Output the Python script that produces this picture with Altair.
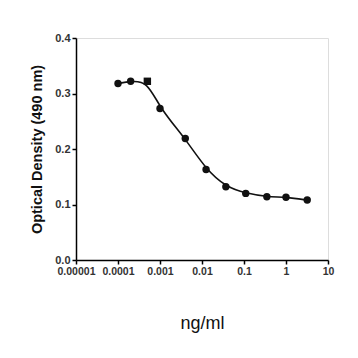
import altair as alt
import pandas as pd

conc = [0.0001, 0.0002, 0.0005, 0.001, 0.004, 0.0125, 0.037, 0.11, 0.35, 1.0, 3.2]
od = [0.318, 0.322, 0.322, 0.273, 0.219, 0.163, 0.132, 0.120, 0.114, 0.113, 0.108]
marker = ["circle", "circle", "square", "circle", "circle", "circle", "circle", "circle", "circle", "circle", "circle"]
x_ticks = [0.00001, 0.0001, 0.001, 0.01, 0.1, 1, 10]

df = pd.DataFrame({"conc": conc, "od": od, "marker": marker})

label_expr = "datum.value >= 1 ? format(datum.value, 'd') : format(datum.value, '.' + round(-log(datum.value)/log(10)) + 'f')"

x_enc = alt.X(
    "conc:Q",
    scale=alt.Scale(type="log", domain=[0.00001, 10]),
    axis=alt.Axis(
        values=x_ticks,
        labelExpr=label_expr,
        title="ng/ml",
        titleFontSize=18,
        titleFontWeight="normal",
        titleFont="Liberation Sans",
        titleColor="#111",
        titlePadding=38,
        labelFontSize=10.5,
        labelFontWeight="bold",
        labelFont="Liberation Sans",
        labelColor="#333",
        tickSize=4,
        tickColor="black",
        domainColor="black",
        domainWidth=1.5,
        tickWidth=1.5,
        grid=False,
        labelFlush=False,
        labelOverlap=False,
    ),
)
y_enc = alt.Y(
    "od:Q",
    scale=alt.Scale(domain=[0, 0.4]),
    axis=alt.Axis(
        values=[0, 0.1, 0.2, 0.3, 0.4],
        format=".1f",
        title="Optical Density (490 nm)",
        titleFontSize=14.5,
        titleFontWeight="bold",
        titleFont="Liberation Sans",
        titleColor="#111",
        titlePadding=10,
        labelFontSize=11,
        labelFontWeight="bold",
        labelFont="Liberation Sans",
        labelColor="#333",
        tickSize=4,
        tickColor="black",
        domainColor="black",
        domainWidth=1.5,
        tickWidth=1.5,
        grid=False,
    ),
)

line = alt.Chart(df).mark_line(color="#111", strokeWidth=1.6, interpolate="basis").encode(x=x_enc, y=y_enc)
pts = alt.Chart(df).mark_point(filled=True, color="#111", size=55, opacity=1).encode(
    x=x_enc, y=y_enc,
    shape=alt.Shape("marker:N", scale=alt.Scale(domain=["circle", "square"], range=["circle", "square"]), legend=None),
)

chart = (line + pts).properties(
    width=252, height=222,
    autosize=alt.AutoSizeParams(type="none"),
    padding={"left": 76, "top": 38, "right": 30, "bottom": 98},
).configure_view(stroke=None).configure(background="white")

chart.save("out.html", embed_options={"renderer": "svg", "actions": False})
